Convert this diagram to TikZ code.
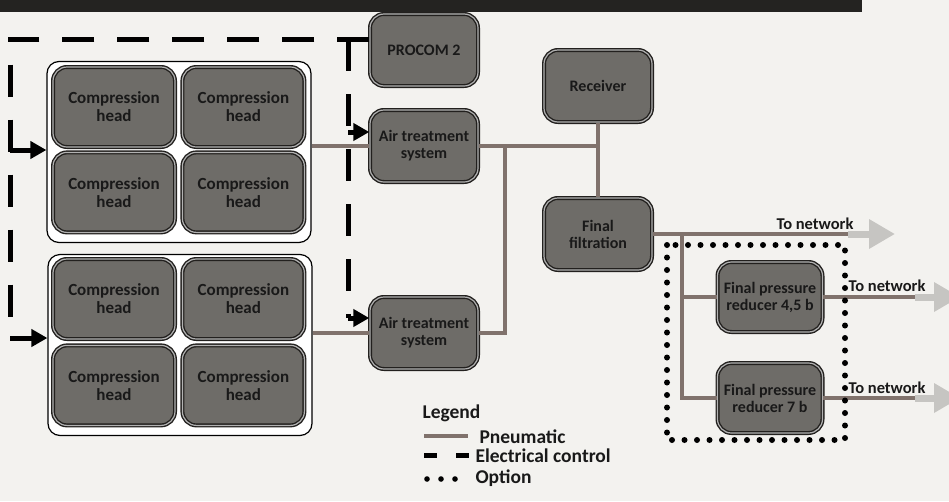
\documentclass[tikz,border=0pt]{standalone}
\usepackage{fontspec}
\setmainfont{Carlito}
\usetikzlibrary{arrows.meta}
\usetikzlibrary{positioning}

\definecolor{paper}{RGB}{243,242,239}
\definecolor{bandgray}{RGB}{36,35,33}
\definecolor{boxgray}{RGB}{110,108,104}
\definecolor{boxedge}{RGB}{34,32,30}
\definecolor{pipe}{RGB}{128,114,108}
\definecolor{netgray}{RGB}{198,197,194}

\begin{document}
\begin{tikzpicture}[x=1pt,y=-1pt,
  head/.style={rectangle,rounded corners=14pt,draw=boxedge,line width=1.4pt,double=gray!60,double distance=1.2pt,fill=boxgray,minimum width=122pt,minimum height=80pt,align=center,text=black!90,font=\fontsize{17}{18}\selectfont\bfseries},
  unit/.style={head,minimum width=108pt,minimum height=72pt,font=\fontsize{16}{17}\selectfont\bfseries},
  group/.style={rectangle,rounded corners=12pt,draw=black,line width=1.2pt,fill=white,minimum width=264pt,minimum height=181pt},
  pneu/.style={draw=pipe,line width=3.5pt},
  elec/.style={draw=black,line width=5pt,dash pattern=on 32pt off 23pt},
  elecarrow/.style={draw=black,line width=5pt,-{Triangle[length=16pt,width=17pt]}},
  opt/.style={draw=black,line width=6pt,line cap=round,dash pattern=on 0pt off 12.5pt},
  netarrow/.style={draw=netgray,line width=7pt,-{Triangle[length=26pt,width=28pt]}},
  lbl/.style={text=black!90,font=\fontsize{16.5}{17}\selectfont\bfseries},
  legfont/.style={text=black!90,font=\fontsize{19.5}{20}\selectfont\bfseries}]
\useasboundingbox (0,0) rectangle (949,501);
\fill[paper] (0,0) rectangle (949,501);
\fill[bandgray] (0,0) rectangle (862,12);

% compression heads
\node[group] (g1) at (179,152) {};
\node[head] (h1) at (114,107) {Compression\\head};
\node[head,right=6pt of h1] (h2) {Compression\\head};
\node[head,below=4pt of h1] (h3) {Compression\\head};
\node[head,below=4pt of h2] (h4) {Compression\\head};

\node[group] (g2) at (180,345) {};
\node[head] (h5) at (114,299) {Compression\\head};
\node[head,right=6pt of h5] (h6) {Compression\\head};
\node[head,below=5pt of h5] (h7) {Compression\\head};
\node[head,below=5pt of h6] (h8) {Compression\\head};

% treatment and storage
\node[unit] (procom) at (424,50) {PROCOM 2};
\node[unit] (ats1) at (424,146) {Air treatment\\system};
\node[unit] (ats2) at (424,333) {Air treatment\\system};
\node[unit] (recv) at (598,86) {Receiver};
\node[unit] (filt) at (598,234) {Final\\filtration};
\node[unit,minimum width=105pt,minimum height=70pt] (fpr1) at (770,297) {Final pressure\\reducer 4,5 b};
\node[unit,minimum width=105pt,minimum height=70pt] (fpr2) at (770,398) {Final pressure\\reducer 7 b};

% electrical control
\coordinate (ctop) at (348,39);
\coordinate (c1) at (10,338);
\coordinate (a1) at (10,150);
\coordinate (b1) at (348,132);
\coordinate (b2) at (348,318);
\draw[elec] (procom.west |- ctop) -| (c1);
\draw[elec] (ctop) -- (b2);
\draw[elecarrow] (a1) -- (a1 -| g1.west);
\draw[elecarrow] (c1) -- (c1 -| g2.west);
\draw[elecarrow] (b1) -- (b1 -| ats1.west);
\draw[elecarrow] (b2) -- (b2 -| ats2.west);

% pneumatic
\coordinate (j1) at (505,146);
\coordinate (k1) at (682,234);
\coordinate (n1) at (848,234);
\coordinate (n2) at (915,297);
\coordinate (n3) at (915,398);
\coordinate (t1) at (895,234);
\coordinate (t2) at (960,297);
\coordinate (t3) at (960,398);
\draw[pneu] (ats1.west -| g1.east) -- (ats1.west);
\draw[pneu] (ats2.west -| g2.east) -- (ats2.west);
\draw[pneu] (ats1.east) -- (ats1.east -| recv.south);
\draw[pneu] (recv.south) -- (filt.north);
\draw[pneu] (ats2.east) -| (j1);
\draw[pneu] (filt.east) -- (n1);
\draw[pneu] (k1) |- (fpr2.west);
\draw[pneu] (k1 |- fpr1.west) -- (fpr1.west);
\draw[pneu] (fpr1.east) -- (n2);
\draw[pneu] (fpr2.east) -- (n3);
\draw[netarrow] (n1) -- (t1);
\draw[netarrow] (n2) -- (t2);
\draw[netarrow] (n3) -- (t3);
\node[lbl] (l1) at (815,224) {To network};
\node[lbl] (l2) at (887,286) {To network};
\node[lbl] (l3) at (887,388) {To network};

% option
\draw[opt] (667,245) rectangle (845,440);

% legend
\node[legfont,anchor=base west] (leg) at (419,418) {Legend};
\node[legfont,anchor=base west] (lp) at (476,443) {Pneumatic};
\node[legfont,anchor=base west] (le) at (472,462) {Electrical control};
\node[legfont,anchor=base west] (lo) at (472,483) {Option};
\draw[pneu] ([xshift=-52pt,yshift=7pt]lp.base west) -- ([xshift=-8pt,yshift=7pt]lp.base west);
\draw[line width=5pt] ([xshift=-48pt,yshift=7pt]le.base west) -- ([xshift=-35pt,yshift=7pt]le.base west);
\draw[line width=5pt] ([xshift=-16pt,yshift=7pt]le.base west) -- ([xshift=-3pt,yshift=7pt]le.base west);
\fill ([xshift=-45pt,yshift=4pt]lo.base west) circle (2.8pt);
\fill ([xshift=-31pt,yshift=4pt]lo.base west) circle (2.8pt);
\fill ([xshift=-17pt,yshift=4pt]lo.base west) circle (2.8pt);

\end{tikzpicture}
\end{document}
